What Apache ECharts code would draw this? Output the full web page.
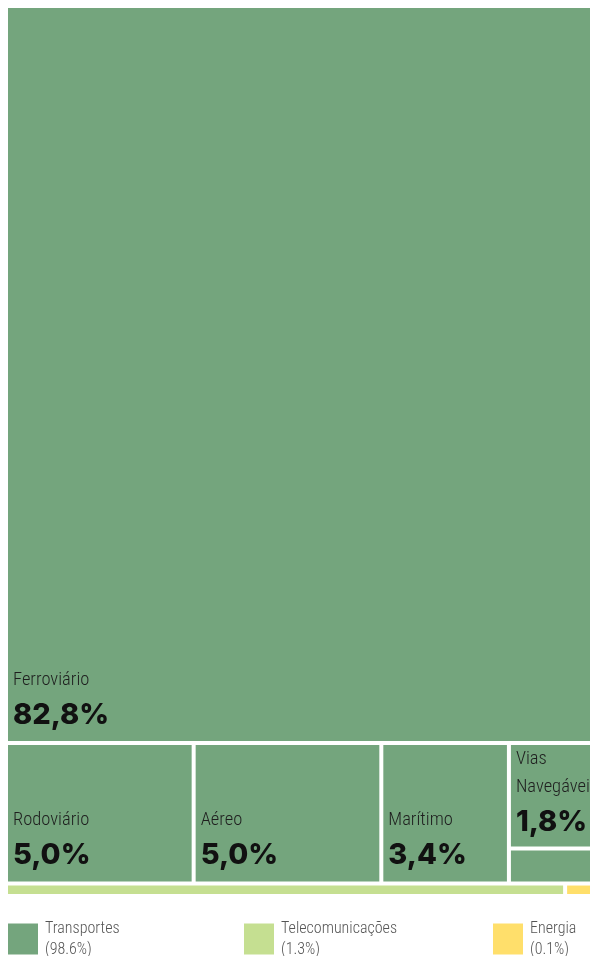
<!DOCTYPE html>
<html><head><meta charset="utf-8">
<script src="https://cdn.jsdelivr.net/npm/echarts@6/dist/echarts.min.js"></script>
<style>html,body{margin:0;padding:0;background:#fff;overflow:hidden}#c{width:590px;height:956px}</style>
</head><body><div id="c"></div>
<script>
const sectors = ['Transportes', 'Telecomunicações', 'Energia'];
const sectorShares = [98.6, 1.32, 0.08];
const transportModes = ['Ferroviário', 'Rodoviário', 'Aéreo', 'Marítimo', 'Vias Navegáveis', 'Outros'];
const transportShares = [82.8, 5.0, 5.0, 3.4, 1.8, 0.6];
const sectorColors = ['#74a57d', '#c5df91', '#ffdf6b'];

const NARROW = '"Roboto Condensed", "DejaVu Sans Condensed", sans-serif';
const BOLD = 'Inter, Roboto, sans-serif';
const NAME_LH = 28, VALUE_LH = 42, BOTTOM_GAP = 5, LEFT_PAD = 5;

function buildData(pads) {
  return sectors.map((s, i) => {
    const node = { name: s, value: sectorShares[i], itemStyle: { color: sectorColors[i] } };
    if (i === 0) {
      node.children = transportModes.map((m, j) => ({
        name: m,
        value: transportShares[j],
        itemStyle: { color: sectorColors[0] },
        label: { show: m !== 'Outros', padding: [pads[m] || 0, 0, 0, LEFT_PAD] }
      }));
    } else {
      node.label = { show: false };
    }
    return node;
  });
}

const legendLeft = [8, 244, 493];

function makeOption(pads) {
  return {
    animation: false,
    legend: sectors.map((s, i) => ({
      data: [s],
      left: legendLeft[i],
      top: 918,
      padding: 0,
      icon: 'rect',
      itemWidth: 30,
      itemHeight: 31,
      itemGap: 0,
      selectedMode: false,
      formatter: n => n + '\n(' + sectorShares[i].toFixed(1) + '%)',
      textStyle: { fontFamily: NARROW, fontWeight: 300, fontSize: 16, lineHeight: 21, color: '#555', padding: [0, 0, 0, 2] }
    })),
    series: [
      {
        type: 'treemap',
        left: 8,
        top: 8,
        width: 589,
        height: 886,
        roam: false,
        nodeClick: false,
        sort: false,
        breadcrumb: { show: false },
        data: buildData(pads),
        label: {
          show: true,
          position: 'insideTopLeft',
          align: 'left',
          overflow: 'none',
          formatter: p => p.name.split(' ').map(w => '{n|' + w + '}').join('\n') +
            '\n{v|' + p.value.toFixed(1).replace('.', ',') + '%}',
          rich: {
            n: { fontFamily: NARROW, fontWeight: 300, fontSize: 18.5, lineHeight: NAME_LH, color: '#1e1e1e', align: 'left' },
            v: { fontFamily: BOLD, fontWeight: 800, fontSize: 29, lineHeight: VALUE_LH, color: '#111', align: 'left' }
          }
        },
        itemStyle: { borderColor: '#fff' },
        levels: [
          { itemStyle: { borderWidth: 0, gapWidth: 4, borderColor: '#fff' } },
          { itemStyle: { borderWidth: 0, gapWidth: 4, borderColor: '#fff' } },
          { itemStyle: { borderWidth: 0, gapWidth: 0 } }
        ]
      },
      {
        type: 'pie',
        radius: [0, 0],
        center: [-50, -50],
        silent: true,
        label: { show: false },
        labelLine: { show: false },
        data: sectors.map((s, i) => ({ name: s, value: sectorShares[i], itemStyle: { color: sectorColors[i] } }))
      }
    ]
  };
}

const chart = echarts.init(document.getElementById('c'), null, { renderer: 'canvas' });
chart.setOption(makeOption({}));
// second pass: push each label to the bottom of the cell that the treemap layout produced
const pads = {};
const tree = chart.getModel().getSeriesByIndex(0).getData().tree;
tree.root.eachNode(node => {
  const lay = node.getLayout();
  if (!lay || node.depth !== 2 || transportModes.indexOf(node.name) < 0) return;
  const lines = node.name.split(' ').length;
  pads[node.name] = Math.max(0, lay.height - (lines * NAME_LH + VALUE_LH) - BOTTOM_GAP);
});
chart.setOption(makeOption(pads), true);
</script></body></html>
